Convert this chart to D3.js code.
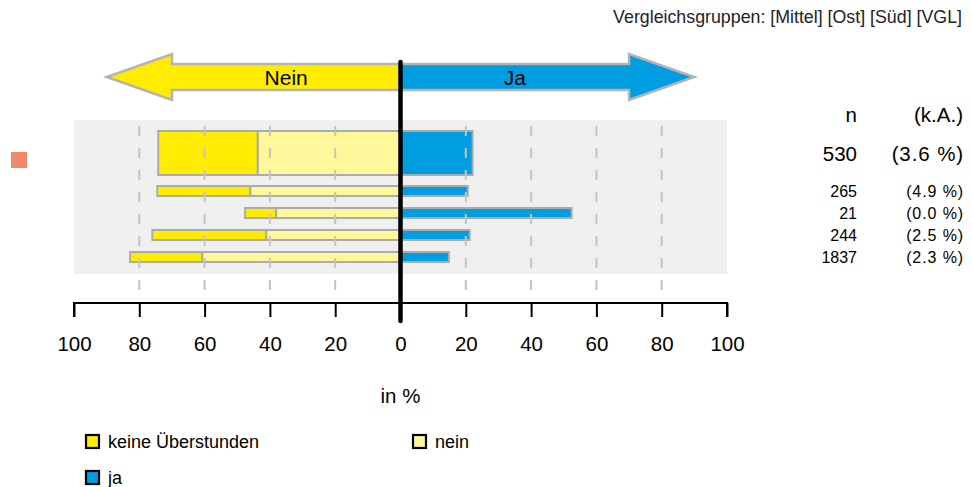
<!DOCTYPE html>
<html>
<head>
<meta charset="utf-8">
<script src="https://cdn.jsdelivr.net/npm/d3@7"></script>
<style>
  html, body { margin: 0; padding: 0; background: #fff; }
  svg { display: block; font-family: "Liberation Sans", Arial, Helvetica, sans-serif; }
</style>
</head>
<body>
<svg id="chart" width="972" height="487"></svg>
<script>
// ---- data ----
const groups = ["Gesamt", "Mittel", "Ost", "Süd", "VGL"];
const keine = [30.5, 28.5, 9.5, 34.9, 22.1];
const nein = [43.7, 46.0, 38.1, 41.1, 60.7];
const ja = [22.1, 20.6, 52.4, 21.2, 14.8];
const nValues = [530, 265, 21, 244, 1837];
const kaValues = ["3.6", "4.9", "0.0", "2.5", "2.3"];
const tickValues = [-100, -80, -60, -40, -20, 0, 20, 40, 60, 80, 100];
const gridValues = [-80, -60, -40, -20, 20, 40, 60, 80];
const seriesNames = ["keine Überstunden", "nein", "ja"];
const colors = { "keine Überstunden": "#FFEC00", "nein": "#FFF799", "ja": "#009DE0" };
const title = "Vergleichsgruppen: [Mittel] [Ost] [Süd] [VGL]";

// ---- scales ----
const svg = d3.select("#chart");
const x = d3.scaleLinear().domain([-100, 100]).range([74, 727]);
const yCenter = d3.scaleOrdinal().domain(groups).range([153, 191, 213, 235, 257]);
const barH = g => g === groups[0] ? 44 : 10;

// title
svg.append("text").attr("x", 962).attr("y", 23).attr("text-anchor", "end")
  .attr("font-size", 17.8).attr("fill", "#222").text(title);

// background panel
svg.append("rect").attr("x", x(-100)).attr("y", 120).attr("width", x(100) - x(-100)).attr("height", 154)
  .attr("fill", "#EFEFEF");

// arrows
const arrowY = 77, shaftH = 13, headH = 23;
function arrowPath(dir) {
  const x0 = x(0), xb = x(70 * dir), xt = x(90 * dir);
  return `M${x0},${arrowY - shaftH} L${xb},${arrowY - shaftH} L${xb},${arrowY - headH} L${xt},${arrowY} L${xb},${arrowY + headH} L${xb},${arrowY + shaftH} L${x0},${arrowY + shaftH} Z`;
}
svg.append("path").attr("d", arrowPath(-1)).attr("fill", colors["keine Überstunden"])
  .attr("stroke", "#B4B4B4").attr("stroke-width", 2.5);
svg.append("path").attr("d", arrowPath(1)).attr("fill", colors["ja"])
  .attr("stroke", "#B4B4B4").attr("stroke-width", 2.5);
svg.append("text").attr("x", x(-35)).attr("y", arrowY + 7.5).attr("text-anchor", "middle")
  .attr("font-size", 21).text("Nein");
svg.append("text").attr("x", x(35)).attr("y", arrowY + 7.5).attr("text-anchor", "middle")
  .attr("font-size", 21).text("Ja");

// bars
const rows = groups.map((g, i) => ({ g, i, keine: keine[i], nein: nein[i], ja: ja[i] }));
const barG = svg.append("g");
rows.forEach(r => {
  const h = barH(r.g), y0 = yCenter(r.g) - h / 2;
  const segs = [
    { s: "keine Überstunden", a: -(r.keine + r.nein), b: -r.nein },
    { s: "nein", a: -r.nein, b: 0 },
    { s: "ja", a: 0, b: r.ja }
  ];
  barG.selectAll(null).data(segs).enter().append("rect")
    .attr("x", d => x(d.a)).attr("y", y0)
    .attr("width", d => x(d.b) - x(d.a)).attr("height", h)
    .attr("fill", d => colors[d.s])
    .attr("stroke", "#ABABAB").attr("stroke-width", 2);
});

// gridlines (over bars)
svg.append("g").selectAll("line").data(gridValues).enter().append("line")
  .attr("x1", d => x(d)).attr("x2", d => x(d))
  .attr("y1", 126).attr("y2", 303)
  .attr("stroke", "#C4C4C4").attr("stroke-width", 2)
  .attr("stroke-dasharray", "10,12");

// axis
const axis = d3.axisBottom(x).tickValues(tickValues).tickSize(14).tickPadding(19)
  .tickFormat(d => Math.abs(d));
const ag = svg.append("g").attr("transform", "translate(0,303)").call(axis);
ag.select(".domain").attr("stroke", "#000").attr("stroke-width", 2).attr("d", `M${x(-100)},14V0H${x(100)}V14`);
ag.selectAll(".tick line").attr("stroke", "#000").attr("stroke-width", 2);
ag.selectAll(".tick text").attr("font-size", 20.5).attr("fill", "#000")
  .attr("font-family", "Liberation Sans, Arial, sans-serif");

svg.append("text").attr("x", x(0)).attr("y", 403).attr("text-anchor", "middle")
  .attr("font-size", 20.5).text("in %");

// zero line
svg.append("line").attr("x1", x(0)).attr("x2", x(0)).attr("y1", 62).attr("y2", 321)
  .attr("stroke", "#000").attr("stroke-width", 4.5).attr("stroke-linecap", "round");

// right table
svg.append("text").attr("x", 857).attr("y", 122).attr("text-anchor", "end").attr("font-size", 20.5).text("n");
svg.append("text").attr("x", 963).attr("y", 122).attr("text-anchor", "end").attr("font-size", 20.5).text("(k.A.)");
groups.forEach((g, i) => {
  const fs = i === 0 ? 20.5 : 16;
  const yy = yCenter(g) + (i === 0 ? 7.5 : 6);
  svg.append("text").attr("x", 857).attr("y", yy).attr("text-anchor", "end").attr("font-size", fs).text(nValues[i]);
  svg.append("text").attr("x", 964).attr("y", yy).attr("text-anchor", "end").attr("font-size", fs)
    .attr("letter-spacing", i === 0 ? 0.9 : 0.9)
    .text(`(${kaValues[i]} %)`);
});

// marker for own group
svg.append("rect").attr("x", 11).attr("y", 152).attr("width", 16).attr("height", 16).attr("fill", "#F4876A");

// legend
const legendPos = [[86, 435], [413, 435], [86, 471]];
seriesNames.forEach((s, i) => {
  const [lx, ly] = legendPos[i];
  svg.append("rect").attr("x", lx).attr("y", ly).attr("width", 13).attr("height", 13)
    .attr("fill", colors[s]).attr("stroke", "#000").attr("stroke-width", 2.2);
  svg.append("text").attr("x", lx + 22).attr("y", ly + 13).attr("font-size", 18).text(s);
});
</script>
</body>
</html>
